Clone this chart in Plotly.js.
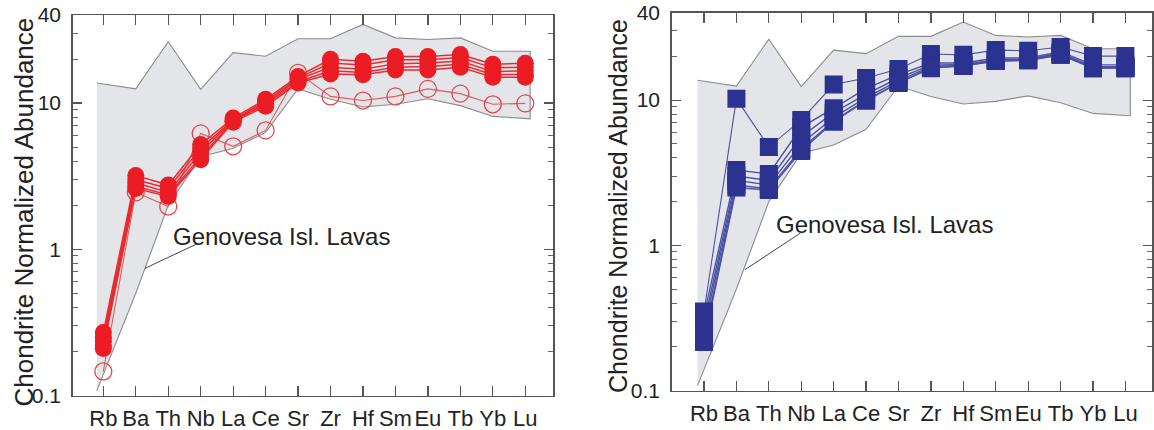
<!DOCTYPE html>
<html>
<head>
<meta charset="utf-8">
<script src="https://cdn.plot.ly/plotly-3.0.1.min.js"></script>
<style>
html,body{margin:0;padding:0;background:#fff;}
#chart{width:1154px;height:430px;}
</style>
</head>
<body>
<div id="chart"></div>
<script>
// ---- data ----
const elements = ['Rb','Ba','Th','Nb','La','Ce','Sr','Zr','Hf','Sm','Eu','Tb','Yb','Lu'];

// Genovesa Isl. Lavas field (upper / lower envelope per element)
const bandUpper = [13.7, 12.5, 26.3, 12.4, 22.1, 20.9, 27.5, 27.5, 34.5, 27.9, 27.2, 27.9, 22.6, 22.6];
const bandLower = [0.108, 0.5, 2.0, 4.3, 4.9, 6.3, 12.5, 10.6, 9.4, 9.8, 10.7, 9.6, 8.1, 7.8];

// left panel (red) samples
const redFilledA = [0.27, 3.2, 2.75, 5.2, 7.9, 10.6, 15.2, 19.9, 19.3, 20.8, 20.8, 21.5, 18.4, 18.7];
const redFilledB = [0.25, 3.0, 2.6, 4.9, 7.7, 10.3, 14.8, 18.8, 18.2, 19.8, 19.8, 20.5, 17.4, 17.6];
const redFilledC = [0.235, 2.85, 2.45, 4.6, 7.6, 10.0, 14.5, 17.6, 17.0, 18.6, 18.8, 19.4, 16.4, 16.6];
const redFilledD = [0.22, 2.7, 2.35, 4.3, 7.5, 9.8, 14.0, 16.6, 16.2, 17.6, 17.8, 18.4, 15.6, 15.7];
const redFilledE = [0.21, 2.6, 2.3, 4.1, 7.4, 9.5, 13.7, 15.8, 15.6, 16.8, 16.8, 17.6, 15.0, 15.0];
const redOpen    = [0.146, 2.45, 1.96, 6.2, 5.06, 6.5, 16.1, 11.1, 10.4, 11.1, 12.5, 11.6, 9.8, 9.95];

// right panel (blue) samples
const blueA = [0.35, 10.2, 4.75, 7.3, 12.8, 14.2, 16.4, 20.8, 20.5, 22.1, 21.9, 23.2, 20.1, 20.1];
const blueB = [0.33, 3.3, 3.1, 6.5, 8.8, 12.0, 15.0, 18.0, 18.0, 19.5, 19.5, 21.5, 17.5, 17.5];
const blueC = [0.29, 3.0, 2.8, 5.6, 8.2, 11.0, 14.2, 17.4, 17.6, 19.0, 19.2, 21.0, 17.0, 17.0];
const blueD = [0.26, 2.8, 2.6, 5.0, 7.6, 10.4, 13.6, 17.0, 17.4, 18.8, 19.0, 20.7, 16.8, 16.8];
const blueE = [0.23, 2.6, 2.45, 4.6, 7.2, 10.0, 13.2, 16.7, 17.2, 18.6, 18.8, 20.5, 16.6, 16.6];
const blueF = [0.216, 2.5, 2.4, 4.46, 7.1, 9.9, 13.1, 16.6, 17.2, 18.6, 18.8, 20.5, 16.6, 16.6];

const yTickVals = [0.1, 1, 10, 40];
const yTickText = ['0.1', '1', '10', '40'];
const yMinorVals = [0.2,0.3,0.4,0.5,0.6,0.7,0.8,0.9, 2,3,4,5,6,7,8,9, 20,30];

const yTitle = 'Chondrite Normalized Abundance';
const fieldLabel = 'Genovesa Isl. Lavas';

// ---- build ----
const FONT = 'Liberation Sans, Arial, Helvetica, sans-serif';
const idx = elements.map((e, i) => i);
const n = elements.length;
const bandX = idx.map(i => i === 0 ? i - 0.2 : (i === n - 1 ? i + 0.15 : i));

function bandTrace(xa, ya) {
  return {
    x: bandX.concat(bandX.slice().reverse()),
    y: bandUpper.concat(bandLower.slice().reverse()),
    xaxis: xa, yaxis: ya,
    type: 'scatter', mode: 'lines', fill: 'toself',
    fillcolor: '#e4e5e8',
    line: {color: '#8c8c8c', width: 1.1},
    hoverinfo: 'skip', showlegend: false
  };
}
function lineTrace(vals, xa, ya, color, width) {
  return {x: idx, y: vals, xaxis: xa, yaxis: ya, type: 'scatter', mode: 'lines',
          line: {color: color, width: width}, showlegend: false, hoverinfo: 'skip'};
}
function markTrace(vals, xa, ya, marker) {
  return {x: idx, y: vals, xaxis: xa, yaxis: ya, type: 'scatter', mode: 'markers',
          marker: marker, showlegend: false};
}

const redFilled = [redFilledA, redFilledB, redFilledC, redFilledD, redFilledE];
const blues = [blueA, blueB, blueC, blueD, blueE, blueF];

const traces = [];
traces.push(bandTrace('x', 'y'));
traces.push(lineTrace(redOpen, 'x', 'y', '#e35a5e', 1.1));
redFilled.forEach(v => traces.push(lineTrace(v, 'x', 'y', '#ea2a30', 1.5)));
traces.push(markTrace(redOpen, 'x', 'y', {symbol: 'circle-open', size: 17, color: '#e2474d', line: {width: 1.3}}));
redFilled.forEach(v => traces.push(markTrace(v, 'x', 'y', {symbol: 'circle', size: 17, color: '#ec1c24', line: {width: 0}})));

traces.push(bandTrace('x2', 'y2'));
blues.forEach((v, k) => traces.push(lineTrace(v, 'x2', 'y2', '#4c52a4', k === 0 ? 1.1 : 1.4)));
blues.forEach(v => traces.push(markTrace(v, 'x2', 'y2', {symbol: 'square', size: 18, color: '#2b3290', line: {width: 0}})));

const W = 1154, H = 430;
function xAxis(domain, range, anchor) {
  return {
    domain: domain, range: range, anchor: anchor,
    tickmode: 'array', tickvals: idx, ticktext: elements,
    tickangle: 0,
    ticks: 'inside', ticklen: 10, tickwidth: 1.2, tickcolor: '#555',
    showline: true, linecolor: '#555', linewidth: 1.5, mirror: 'ticks',
    showgrid: false, zeroline: false,
    tickfont: {family: FONT, size: 22, color: '#222'},
    ticklabelstandoff: 3,
    fixedrange: true
  };
}
function yAxis(domain, anchor) {
  return {
    domain: domain, anchor: anchor, type: 'log',
    range: [-1, Math.log10(40)],
    tickmode: 'array', tickvals: yTickVals, ticktext: yTickText,
    ticks: 'inside', ticklen: 9, tickwidth: 1.2, tickcolor: '#555',
    minor: {tickmode: 'array', tickvals: yMinorVals, ticks: 'inside', ticklen: 5, tickwidth: 1, tickcolor: '#666', showgrid: false},
    showline: true, linecolor: '#555', linewidth: 1.5, mirror: 'ticks',
    showgrid: false, zeroline: false,
    tickfont: {family: FONT, size: 21, color: '#222'},
    ticklabelstandoff: 6,
    fixedrange: true
  };
}

const layout = {
  width: W, height: H,
  margin: {l: 0, r: 0, t: 0, b: 0, pad: 0},
  paper_bgcolor: '#fff', plot_bgcolor: 'rgba(0,0,0,0)',
  showlegend: false,
  font: {family: FONT, color: '#222'},
  xaxis: xAxis([72.7 / W, 553 / W], [-0.943, 13.854], 'y'),
  yaxis: yAxis([34.5 / H, 415 / H], 'x'),
  xaxis2: xAxis([671.7 / W, 1152 / W], [-0.997, 13.82], 'y2'),
  yaxis2: yAxis([39.5 / H, 417.3 / H], 'x2'),
  annotations: [
    {text: yTitle, xref: 'paper', yref: 'paper', x: 23 / W, y: (H - 212.5) / H,
     textangle: -90, xanchor: 'center', yanchor: 'middle', showarrow: false,
     font: {family: FONT, size: 26, color: '#222'}},
    {text: yTitle, xref: 'paper', yref: 'paper', x: 618 / W, y: (H - 206) / H,
     textangle: -90, xanchor: 'center', yanchor: 'middle', showarrow: false,
     font: {family: FONT, size: 25, color: '#222'}},
    {text: fieldLabel, xref: 'paper', yref: 'paper', x: 170.8 / W, y: (H - 236) / H,
     xanchor: 'left', yanchor: 'middle', showarrow: false,
     font: {family: FONT, size: 24, color: '#222'}},
    {text: fieldLabel, xref: 'paper', yref: 'paper', x: 773.6 / W, y: (H - 224.7) / H,
     xanchor: 'left', yanchor: 'middle', showarrow: false,
     font: {family: FONT, size: 24, color: '#222'}}
  ],
  shapes: [
    {type: 'line', xref: 'paper', yref: 'paper', x0: 198.3 / W, y0: (H - 243.3) / H, x1: 145 / W, y1: (H - 268.3) / H,
     line: {color: '#444', width: 1}},
    {type: 'line', xref: 'paper', yref: 'paper', x0: 800.5 / W, y0: (H - 233) / H, x1: 745 / W, y1: (H - 269.7) / H,
     line: {color: '#444', width: 1}}
  ]
};

Plotly.newPlot('chart', traces, layout, {displayModeBar: false, staticPlot: true});
</script>
</body>
</html>
